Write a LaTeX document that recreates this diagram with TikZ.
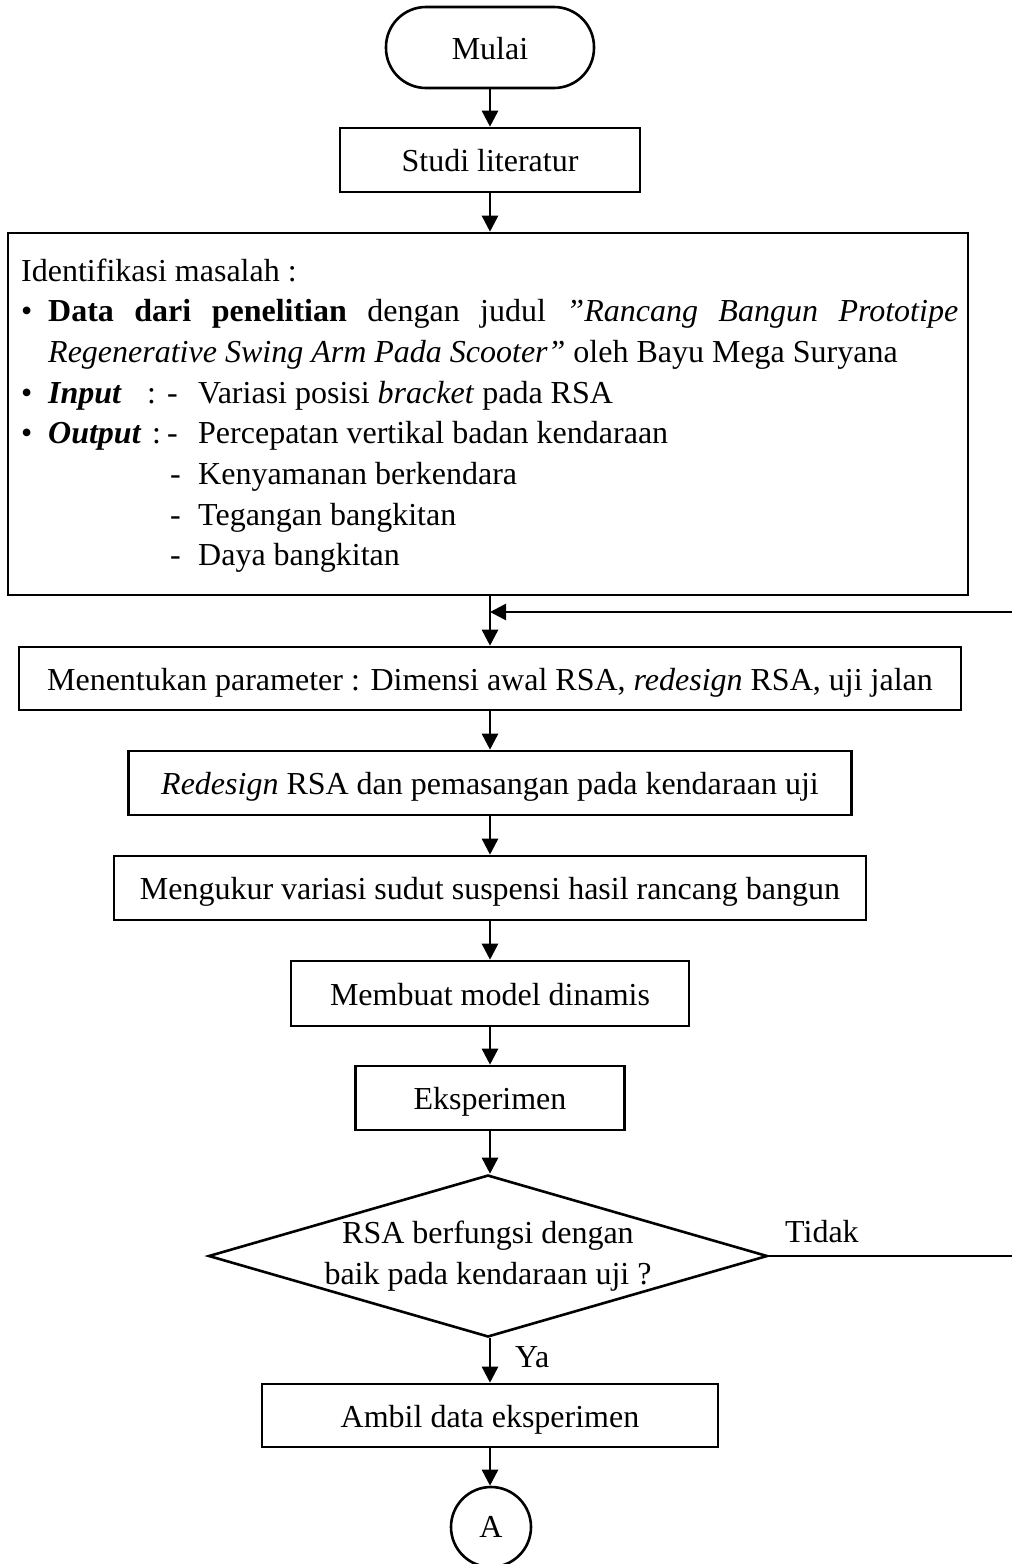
\documentclass[tikz,border=0pt]{standalone}
\usepackage{fontspec}
\setmainfont{Liberation Serif}
\usetikzlibrary{shapes.geometric,arrows.meta}
\newcommand{\bigfont}{\fontsize{32}{40.7}\selectfont}
\tikzset{
  lw/.style={line width=2.6pt},
  boxnode/.style={draw, lw, rectangle, inner sep=0pt, text height=25pt, text depth=2pt, font=\bigfont},
  startnode/.style={boxnode, rounded corners=40pt},
  decnode/.style={draw, lw, diamond, inner sep=0pt},
  connnode/.style={draw, lw, circle, inner sep=0pt, minimum size=80pt, font=\bigfont},
  linetext/.style={anchor=base west, inner sep=0pt, font=\bigfont},
  arr/.style={lw, -{Triangle[length=16pt,width=16pt]}},
  plain/.style={lw}
}
\begin{document}
\begin{tikzpicture}[x=1pt,y=-1pt]
\path[use as bounding box] (0,0) rectangle (1012,1564);
\clip (0,0) rectangle (1012,1564);

\node[startnode, minimum width=208pt, minimum height=81pt] (mulai) at (490,47.5) {Mulai};
\node[boxnode, minimum width=300pt, minimum height=64pt] (studi) at (490,160) {Studi literatur};
\node[draw, lw, rectangle, minimum width=960pt, minimum height=362pt, inner sep=0pt] (ident) at (488,414) {};

\node[linetext] (l1) at (21,281) {Identifikasi masalah :};
\node[linetext] (l2) at (21,321.7) {\makebox[27pt][l]{\textbullet}\makebox[910pt][s]{\textbf{Data dari penelitian} dengan judul \textit{”Rancang Bangun Prototipe}}};
\node[linetext] (l3) at (21,362.4) {\hspace*{27pt}\textit{Regenerative Swing Arm Pada Scooter”} oleh Bayu Mega Suryana};
\node[linetext] (l4) at (21,403.1) {\makebox[27pt][l]{\textbullet}\makebox[99pt][l]{\textbf{\textit{Input}}}\makebox[20pt][l]{:}\makebox[31pt][l]{-}Variasi posisi \textit{bracket} pada RSA};
\node[linetext] (l5) at (21,443.8) {\makebox[27pt][l]{\textbullet}\makebox[104pt][l]{\textbf{\textit{Output}}}\makebox[15pt][l]{:}\makebox[31pt][l]{-}Percepatan vertikal badan kendaraan};
\node[linetext] (l6) at (21,484.5) {\hspace*{149pt}\makebox[28pt][l]{-}Kenyamanan berkendara};
\node[linetext] (l7) at (21,525.2) {\hspace*{149pt}\makebox[28pt][l]{-}Tegangan bangkitan};
\node[linetext] (l8) at (21,565.9) {\hspace*{149pt}\makebox[28pt][l]{-}Daya bangkitan};

\node[boxnode, minimum width=942pt, minimum height=63pt] (menentukan) at (490,678.5) {Menentukan parameter : Dimensi awal RSA, \textit{redesign} RSA, uji jalan};
\node[boxnode, minimum width=723pt, minimum height=64pt] (redesign) at (490,783) {\textit{Redesign} RSA dan pemasangan pada kendaraan uji};
\node[boxnode, minimum width=752pt, minimum height=64pt] (mengukur) at (490,888) {Mengukur variasi sudut suspensi hasil rancang bangun};
\node[boxnode, minimum width=398pt, minimum height=65pt] (membuat) at (490,993.5) {Membuat model dinamis};
\node[boxnode, minimum width=269pt, minimum height=64pt] (eksperimen) at (490,1098) {Eksperimen};
\node[decnode, minimum width=559pt, minimum height=162pt] (dec) at (488,1256) {};
\node[align=center, inner sep=0pt, font=\bigfont] (dectext) at (dec.center) {RSA berfungsi dengan\\baik pada kendaraan uji ?};
\node[boxnode, minimum width=456pt, minimum height=63pt] (ambil) at (490,1415.5) {Ambil data eksperimen};
\node[connnode] (conA) at (491,1527) {A};

\node[linetext] (tidak) at (785,1242) {Tidak};
\node[linetext] (ya) at (515,1367) {Ya};

\coordinate (fbtop) at (1016,612);
\coordinate (fbjoin) at (490,612);

\draw[arr] (mulai.south) -- (studi.north);
\draw[arr] (studi.south) -- (studi.south |- ident.north);
\draw[arr] (ident.south -| menentukan.north) -- (menentukan.north);
\draw[arr] (menentukan.south) -- (redesign.north);
\draw[arr] (redesign.south) -- (mengukur.north);
\draw[arr] (mengukur.south) -- (membuat.north);
\draw[arr] (membuat.south) -- (eksperimen.north);
\draw[arr] (eksperimen.south) -- (eksperimen.south |- dec.north);
\draw[arr] (dec.south -| ambil.north) -- (ambil.north);
\draw[arr] (ambil.south) -- (ambil.south |- conA.north);
\draw[arr] (dec.east) -- (dec.east -| fbtop) -- (fbtop) -- (fbjoin);
\end{tikzpicture}
\end{document}
